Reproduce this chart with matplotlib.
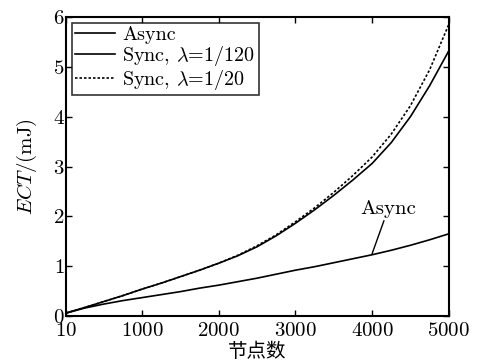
import numpy as np
import matplotlib
matplotlib.use("Agg")
import matplotlib.pyplot as plt

plt.rcParams['font.family'] = ['cmr10', 'Noto Sans CJK SC']
plt.rcParams['mathtext.fontset'] = 'cm'
plt.rcParams['axes.formatter.use_mathtext'] = True

# values
nodes = [10, 250, 500, 750, 1000, 1250, 1500, 1750, 2000, 2250, 2500,
         2750, 3000, 3250, 3500, 3750, 4000, 4250, 4500, 4750, 5000]
ect_async = [0.06, 0.16, 0.24, 0.31, 0.37, 0.43, 0.49, 0.56, 0.62, 0.69, 0.76,
             0.84, 0.92, 0.99, 1.07, 1.15, 1.23, 1.32, 1.42, 1.53, 1.65]
ect_sync_120 = [0.06, 0.17, 0.29, 0.41, 0.54, 0.66, 0.79, 0.92, 1.06, 1.21, 1.39,
                1.61, 1.86, 2.13, 2.42, 2.73, 3.06, 3.48, 4.00, 4.62, 5.32]
ect_sync_20 = [0.06, 0.17, 0.29, 0.41, 0.54, 0.66, 0.79, 0.92, 1.06, 1.22, 1.41,
               1.63, 1.89, 2.17, 2.48, 2.82, 3.19, 3.65, 4.22, 4.94, 5.85]

x_ticks = [10, 1000, 2000, 3000, 4000, 5000]

fig = plt.figure(figsize=(4.8, 3.6), dpi=100)
ax = fig.add_axes([0.1375, 0.122, 0.7975, 0.831])

ax.plot(nodes, ect_async, color='black', lw=1.2, label='Async')
ax.plot(nodes, ect_sync_120, color='black', lw=1.2, label=r'Sync, $\lambda$=1/120')
ax.plot(nodes, ect_sync_20, color='black', lw=1.2, linestyle=(0, (1.5, 1.2)),
        label=r'Sync, $\lambda$=1/20')

ax.annotate('Async', xy=(4000, 1.25), xytext=(4210, 1.97), fontsize=15,
            ha='center', va='bottom',
            arrowprops=dict(arrowstyle='-', color='black', lw=1.0, shrinkA=0, shrinkB=0))

ax.set_xlim(10, 5000)
ax.set_ylim(0, 6)
ax.set_xticks(x_ticks)
ax.set_yticks(range(7))
ax.tick_params(direction='in', top=True, right=True, labelsize=15, length=4, width=1, pad=1)
ax.tick_params(axis='x', pad=4)
for s in ax.spines.values():
    s.set_linewidth(1.5)

ax.set_xlabel('节点数', fontsize=14, labelpad=2)
ax.set_ylabel(r'$\mathit{ECT}$/(mJ)', fontsize=15, labelpad=10)

leg = ax.legend(loc='upper left', fontsize=14.5, frameon=True, fancybox=False,
                edgecolor='black', borderpad=0.15, labelspacing=0.0,
                handlelength=2.0, handletextpad=0.35, borderaxespad=0.3)
leg.get_frame().set_linewidth(1.2)

fig.savefig('out.png', dpi=100)
